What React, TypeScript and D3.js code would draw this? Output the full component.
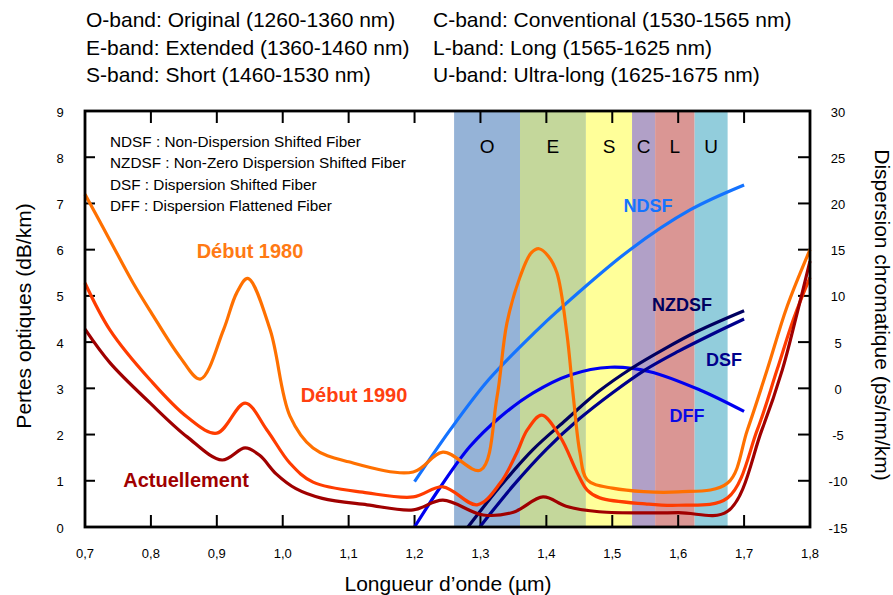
import React from "react";
import * as d3 from "d3";

// ---------- data ----------
const bandNames = ["O", "E", "S", "C", "L", "U"];
const bandStart = [1.26, 1.36, 1.46, 1.53, 1.565, 1.625];
const bandEnd = [1.36, 1.46, 1.53, 1.565, 1.625, 1.675];
const bandColors = ["#95B3D7", "#C4D79B", "#FFFF99", "#B1A0C7", "#DA9694", "#92CDDC"];

const legendLeft = [
  "O-band: Original (1260-1360 nm)",
  "E-band: Extended (1360-1460 nm)",
  "S-band: Short (1460-1530 nm)",
];
const legendRight = [
  "C-band: Conventional (1530-1565 nm)",
  "L-band: Long (1565-1625 nm)",
  "U-band: Ultra-long (1625-1675 nm)",
];
const fiberLegend = [
  "NDSF : Non-Dispersion Shifted Fiber",
  "NZDSF : Non-Zero Dispersion Shifted Fiber",
  "DSF : Dispersion Shifted Fiber",
  "DFF : Dispersion Flattened Fiber",
];

const xTicks = [0.7, 0.8, 0.9, 1.0, 1.1, 1.2, 1.3, 1.4, 1.5, 1.6, 1.7, 1.8];
const yLeftTicks = [0, 1, 2, 3, 4, 5, 6, 7, 8, 9];
const yRightTicks = [-15, -10, -5, 0, 5, 10, 15, 20, 25, 30];

// Optical loss (dB/km)
const wl1980 = [0.70, 0.738, 0.773, 0.80, 0.844, 0.875, 0.91, 0.93, 0.947, 0.981, 1.011, 1.046, 1.10, 1.198, 1.243, 1.30, 1.325, 1.34, 1.36, 1.377, 1.389, 1.403, 1.416, 1.431, 1.441, 1.451, 1.462, 1.50, 1.60, 1.675, 1.705, 1.735, 1.765, 1.80];
const loss1980 = [7.2, 6.2, 5.28, 4.65, 3.68, 3.2, 4.26, 5.06, 5.38, 4.26, 2.4, 1.71, 1.41, 1.19, 1.62, 1.23, 2.8, 4.4, 5.41, 5.93, 6.02, 5.86, 5.5, 4.2, 2.81, 1.6, 1.02, 0.84, 0.76, 0.95, 2.1, 3.4, 4.76, 6.0];

const wl1990 = [0.70, 0.738, 0.799, 0.855, 0.90, 0.943, 0.976, 1.011, 1.046, 1.128, 1.198, 1.243, 1.295, 1.33, 1.355, 1.371, 1.393, 1.421, 1.447, 1.462, 1.481, 1.55, 1.60, 1.675, 1.72, 1.75, 1.775, 1.80];
const loss1990 = [5.28, 4.26, 3.18, 2.38, 2.03, 2.68, 2.1, 1.38, 0.97, 0.74, 0.65, 0.87, 0.48, 0.95, 1.6, 2.1, 2.42, 1.95, 1.17, 0.8, 0.63, 0.5, 0.47, 0.63, 2.1, 3.4, 4.5, 5.4];

const wlNow = [0.70, 0.738, 0.799, 0.855, 0.908, 0.943, 0.965, 0.99, 1.02, 1.06, 1.128, 1.198, 1.243, 1.304, 1.35, 1.395, 1.43, 1.48, 1.60, 1.675, 1.727, 1.758, 1.78, 1.80];
const lossNow = [4.28, 3.55, 2.68, 1.95, 1.45, 1.71, 1.55, 1.15, 0.83, 0.62, 0.48, 0.37, 0.58, 0.26, 0.32, 0.65, 0.45, 0.33, 0.31, 0.34, 2.1, 3.4, 4.6, 5.75];

// Chromatic dispersion (ps/nm/km)
const wlNDSF = [1.2, 1.254, 1.312, 1.386, 1.416, 1.527, 1.618, 1.7];
const dispNDSF = [-10.1, -4.5, 0.9, 6.3, 8.3, 15.0, 19.3, 22.0];

const wlNZDSF = [1.281, 1.33, 1.38, 1.43, 1.48, 1.53, 1.58, 1.63, 1.7];
const dispNZDSF = [-15, -10.6, -6.6, -3.4, -0.3, 2.2, 4.3, 6.2, 8.4];

const wlDSF = [1.299, 1.35, 1.40, 1.45, 1.50, 1.55, 1.60, 1.65, 1.70];
const dispDSF = [-15, -10.5, -6.6, -3.3, -0.5, 2.0, 4.0, 5.8, 7.5];

const wlDFF = [1.2, 1.239, 1.284, 1.33, 1.38, 1.436, 1.497, 1.557, 1.633, 1.7];
const dispDFF = [-15, -10.7, -6.3, -3.1, -0.5, 1.44, 2.28, 1.8, -0.18, -2.5];

// ---------- layout ----------
const W = 893;
const H = 595;
const left = 85, right = 810, top = 111, bottom = 527;
const FONT = "'Liberation Sans', Arial, sans-serif";

export default function App() {
  const x = d3.scaleLinear().domain([0.7, 1.8]).range([left, right]);
  const yL = d3.scaleLinear().domain([0, 9]).range([bottom, top]);
  const yR = d3.scaleLinear().domain([-15, 30]).range([bottom, top]);

  const curve = d3.curveCatmullRom.alpha(0.5);
  const lossLine = d3
    .line<[number, number]>()
    .x((d) => x(d[0]))
    .y((d) => yL(d[1]))
    .curve(curve);
  const dispLine = d3
    .line<[number, number]>()
    .x((d) => x(d[0]))
    .y((d) => yR(d[1]))
    .curve(curve);

  const zip = (a: number[], b: number[]) => a.map((v, i) => [v, b[i]] as [number, number]);

  const fmt = (v: number) => d3.format(".1f")(v).replace(".", ",");

  const lossSeries = [
    { d: zip(wl1980, loss1980), c: "#FF7000" },
    { d: zip(wl1990, loss1990), c: "#FF3C00" },
    { d: zip(wlNow, lossNow), c: "#A00000" },
  ];
  const dispSeries = [
    { d: zip(wlNDSF, dispNDSF), c: "#1473FF" },
    { d: zip(wlDFF, dispDFF), c: "#0000F0" },
    { d: zip(wlNZDSF, dispNZDSF), c: "#000060" },
    { d: zip(wlDSF, dispDSF), c: "#00008C" },
  ];

  return (
    <svg
      width={W}
      height={H}
      style={{ position: "absolute", left: 0, top: 0, background: "#fff" }}
      fontFamily={FONT}
    >
      {/* Top legend */}
      {legendLeft.map((t, i) => (
        <text key={"ll" + i} x={86} y={27 + i * 27.7} fontSize={21} fill="#000">
          {t}
        </text>
      ))}
      {legendRight.map((t, i) => (
        <text key={"lr" + i} x={433} y={27 + i * 27.7} fontSize={21} fill="#000">
          {t}
        </text>
      ))}

      {/* Bands */}
      {bandNames.map((b, i) => (
        <rect
          key={"band" + b}
          x={x(bandStart[i])}
          y={top}
          width={x(bandEnd[i]) - x(bandStart[i])}
          height={bottom - top}
          fill={bandColors[i]}
        />
      ))}
      {bandNames.map((b, i) => (
        <text
          key={"bl" + b}
          x={x((bandStart[i] + bandEnd[i]) / 2)}
          y={153}
          fontSize={19}
          textAnchor="middle"
          fill="#000"
        >
          {b}
        </text>
      ))}

      {/* Ticks */}
      {xTicks.map((t) => (
        <g key={"xt" + t}>
          <line x1={x(t)} x2={x(t)} y1={bottom} y2={bottom - 12} stroke="#000" strokeWidth={2} />
          <line x1={x(t)} x2={x(t)} y1={top} y2={top + 12} stroke="#000" strokeWidth={2} />
          <text x={x(t)} y={558} fontSize={13} textAnchor="middle" fill="#000">
            {fmt(t)}
          </text>
        </g>
      ))}
      {yLeftTicks.map((t) => (
        <g key={"yl" + t}>
          <line x1={left} x2={left + 10} y1={yL(t)} y2={yL(t)} stroke="#000" strokeWidth={2} />
          <text x={60} y={yL(t) + 5.5} fontSize={13} textAnchor="middle" fill="#000">
            {t}
          </text>
        </g>
      ))}
      {yRightTicks.map((t) => (
        <g key={"yr" + t}>
          <line x1={right} x2={right - 12} y1={yR(t)} y2={yR(t)} stroke="#000" strokeWidth={2} />
          <text x={838} y={yR(t) + 5.5} fontSize={13} textAnchor="middle" fill="#000">
            {t}
          </text>
        </g>
      ))}

      {/* Fiber legend */}
      {fiberLegend.map((t, i) => (
        <text key={"fl" + i} x={110} y={147 + i * 21.3} fontSize={15.3} fill="#000">
          {t}
        </text>
      ))}

      {/* Dispersion curves */}
      {dispSeries.map((s, i) => (
        <path key={"ds" + i} d={dispLine(s.d) || ""} fill="none" stroke={s.c} strokeWidth={3.2} />
      ))}

      {/* Loss curves */}
      {lossSeries.map((s, i) => (
        <path key={"ls" + i} d={lossLine(s.d) || ""} fill="none" stroke={s.c} strokeWidth={3.2} strokeLinejoin="round" />
      ))}

      {/* Frame */}
      <rect x={left} y={top} width={right - left} height={bottom - top} fill="none" stroke="#000" strokeWidth={2.8} />

      {/* Curve labels */}
      <text x={250} y={258} fontSize={20} fontWeight="bold" textAnchor="middle" fill="#FF7A14">Début 1980</text>
      <text x={354} y={402} fontSize={20} fontWeight="bold" textAnchor="middle" fill="#FF4010">Début 1990</text>
      <text x={186} y={487} fontSize={20} fontWeight="bold" textAnchor="middle" fill="#A00000">Actuellement</text>
      <text x={648} y={212} fontSize={18} fontWeight="bold" textAnchor="middle" fill="#1473FF">NDSF</text>
      <text x={682} y={311} fontSize={18} fontWeight="bold" textAnchor="middle" fill="#000060">NZDSF</text>
      <text x={724} y={366} fontSize={18} fontWeight="bold" textAnchor="middle" fill="#00008C">DSF</text>
      <text x={687} y={422} fontSize={18} fontWeight="bold" textAnchor="middle" fill="#0A0AE6">DFF</text>

      {/* Axis titles */}
      <text x={448} y={591} fontSize={21} textAnchor="middle" fill="#000">Longueur d’onde (µm)</text>
      <text transform="translate(31,316) rotate(-90)" fontSize={21} textAnchor="middle" fill="#000">
        Pertes optiques (dB/km)
      </text>
      <text transform="translate(875,315) rotate(90)" fontSize={21} textAnchor="middle" fill="#000">
        Dispersion chromatique (ps/nm/km)
      </text>
    </svg>
  );
}
